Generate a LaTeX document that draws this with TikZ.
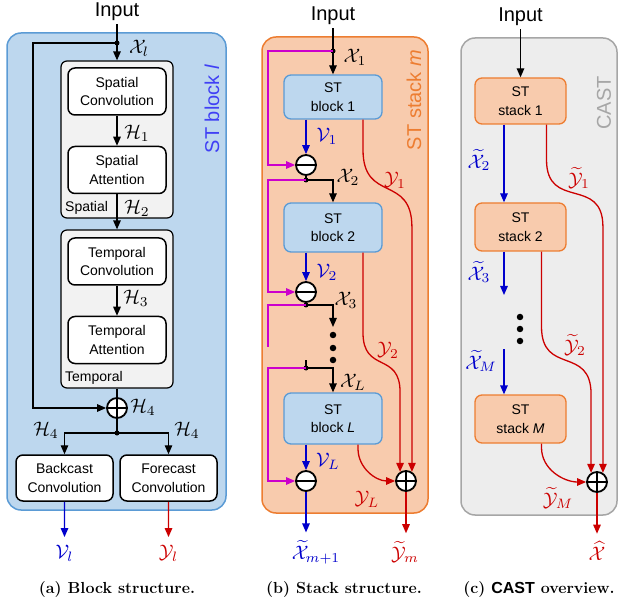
\documentclass[tikz,border=0pt]{standalone}
\usepackage{fontspec}
\setsansfont{Liberation Sans}
\usetikzlibrary{arrows.meta,positioning,calc}
\definecolor{bgblue}{HTML}{BDD7EE}
\definecolor{lnblue}{HTML}{5B9BD5}
\definecolor{bgorange}{HTML}{F8CBAD}
\definecolor{lnorange}{HTML}{ED7D31}
\definecolor{bggray}{HTML}{EDEDED}
\definecolor{lngray}{HTML}{A6A6A6}
\definecolor{grpgray}{HTML}{F2F2F2}
\definecolor{ttlblue}{HTML}{4040F5}
\definecolor{vblue}{HTML}{0000CC}
\definecolor{yred}{HTML}{CC0000}
\definecolor{rmag}{HTML}{CC00CC}
\newcommand{\blkfont}{\sffamily\fontsize{14}{18.5}\selectfont}
\tikzset{
  panel/.style={line width=1.5pt, rounded corners=14pt},
  grp/.style={draw, line width=1.2pt, fill=grpgray, rounded corners=6pt, inner sep=0pt},
  wbox/.style={draw, line width=1.5pt, fill=white, rounded corners=7pt, align=center, font=\blkfont, minimum width=98pt, minimum height=47pt, inner sep=0pt},
  stblock/.style={draw=lnblue, line width=1.3pt, fill=bgblue, rounded corners=7pt, align=center, font=\blkfont, minimum width=98pt, inner sep=0pt},
  ststack/.style={draw=lnorange, line width=1.3pt, fill=bgorange, rounded corners=7pt, align=center, font=\blkfont, minimum width=91pt, minimum height=46pt, inner sep=0pt},
  edge/.style={-{Triangle[length=9pt,width=7.5pt]}, line width=1.3pt},
  wire/.style={line width=1.3pt},
  vedge/.style={edge, vblue},
  yedge/.style={edge, yred},
  redge/.style={edge, rmag},
  sumnode/.style={circle, draw, line width=1.8pt, fill=white, minimum size=20pt, inner sep=0pt},
  opl/.style={sumnode, path picture={\draw[line width=1.8pt] (path picture bounding box.north) -- (path picture bounding box.south) (path picture bounding box.west) -- (path picture bounding box.east);}},
  omi/.style={sumnode, path picture={\draw[line width=1.8pt] (path picture bounding box.west) -- (path picture bounding box.east);}},
  jdot/.style={circle, fill, inner sep=0pt, minimum size=5pt},
  vdot/.style={circle, fill, inner sep=0pt, minimum size=6.5pt},
  lbl/.style={scale=1.95, inner sep=0.5pt},
  outlbl/.style={lbl, inner sep=0pt, outer sep=4pt},
  ttl/.style={font=\sffamily\fontsize{20}{20}\selectfont},
  capt/.style={font=\bfseries\fontsize{16}{16}\selectfont}
}

\begin{document}
\begin{tikzpicture}[x=1pt, y=-1pt]
\useasboundingbox (0,0) rectangle (618,609);

% (a) block structure
\draw[panel, draw=lnblue, fill=bgblue] (7,33) rectangle (226,510);
\node[ttl, text=ttlblue, rotate=90] (tblk) at (212,109) {ST block \textit{l}};
\node[ttl] (ina) at (117,12) {Input};
\node[jdot] (xl) at (117,43) {};
\node[grp, minimum width=112pt, minimum height=157pt] (spg) at (117,139.5) {};
\node[wbox] (sconv) at (117,91.5) {Spatial\\Convolution};
\node[wbox] (satt) at (117,170) {Spatial\\Attention};
\node[font=\blkfont, anchor=south west, inner sep=3pt] (splbl) at (62,218) {Spatial};
\node[grp, minimum width=112pt, minimum height=158pt] (tpg) at (117,309) {};
\node[wbox] (tconv) at (117,261.5) {Temporal\\Convolution};
\node[wbox] (tatt) at (117,340) {Temporal\\Attention};
\node[font=\blkfont, anchor=south west, inner sep=3pt] (tplbl) at (62,388) {Temporal};
\node[opl] (oa) at (117,408) {};
\node[jdot] (spa) at (117,433) {};
\node[wbox, minimum width=97pt, minimum height=46pt] (bconv) at (64.5,478) {Backcast\\Convolution};
\node[wbox, minimum width=97pt, minimum height=46pt] (fconv) at (168.5,478) {Forecast\\Convolution};
\node[outlbl, text=vblue] (vl) at (64.5,553) {$\mathcal{V}_l$};
\node[outlbl, text=yred] (yl) at (168.5,553) {$\mathcal{Y}_l$};
\node[lbl] (xll) at (139,48) {$\mathcal{X}_l$};
\node[lbl] (h1) at (137,133) {$\mathcal{H}_1$};
\node[lbl] (h2) at (137,208) {$\mathcal{H}_2$};
\node[lbl] (h3) at (136,298) {$\mathcal{H}_3$};
\node[lbl] (h4) at (143,407) {$\mathcal{H}_4$};
\node[lbl] (h4l) at (46,430) {$\mathcal{H}_4$};
\node[lbl] (h4r) at (187,430) {$\mathcal{H}_4$};

\draw[edge] (ina) -- (spg);
\draw[edge] (xl.center) -- ++(-84,0) |- (oa);
\draw[edge] (sconv) -- (satt);
\draw[edge] (satt) -- (tpg);
\draw[edge] (tconv) -- (tatt);
\draw[wire] (tpg) -- (oa);
\draw[wire] (oa) -- (spa.center);
\draw[edge] (spa.center) -| (bconv);
\draw[edge] (spa.center) -| (fconv);
\draw[vedge] (bconv) -- (vl);
\draw[yedge] (fconv) -- (yl);

% (b) stack structure
\draw[panel, draw=lnorange, fill=bgorange] (262,37) rectangle (428,513);
\node[ttl, text=lnorange, rotate=90] (tstk) at (414,100) {ST stack \textit{m}};
\node[ttl] (inb) at (333,16) {Input};
\node[jdot] (d1) at (333,51) {};
\node[stblock, minimum height=44pt] (blk1) at (333,97) {ST\\block 1};
\node[omi] (om1) at (306,165) {};
\node[jdot] (d2) at (306,180) {};
\node[stblock, minimum height=49pt] (blk2) at (333,227.5) {ST\\block 2};
\node[omi] (om2) at (306,292) {};
\node[jdot] (d3) at (306,305) {};
\coordinate (e3) at (333,327);
\coordinate (m3) at (268,347);
\node[vdot] (bd1) at (333,335) {};
\node[vdot] (bd2) at (333,348) {};
\node[vdot] (bd3) at (333,360) {};
\coordinate (tk) at (306,360);
\node[jdot] (dL) at (306,368) {};
\node[stblock, minimum height=51pt] (blkL) at (333,418.5) {ST\\block \textit{L}};
\node[omi] (omL) at (306,481) {};
\node[opl] (opb) at (406,481) {};
\node[outlbl, text=vblue] (xm) at (316,552) {$\widetilde{\mathcal{X}}_{m+1}$};
\node[outlbl, text=yred] (ym) at (405,552) {$\widetilde{\mathcal{Y}}_m$};
\node[lbl] (x1l) at (355,57) {$\mathcal{X}_1$};
\node[lbl] (x2l) at (348,177) {$\mathcal{X}_2$};
\node[lbl] (x3l) at (346,300) {$\mathcal{X}_3$};
\node[lbl] (xLl) at (353,382) {$\mathcal{X}_L$};
\node[lbl, text=vblue] (v1l) at (327,136) {$\mathcal{V}_1$};
\node[lbl, text=vblue] (v2l) at (327,272) {$\mathcal{V}_2$};
\node[lbl, text=vblue] (vLl) at (328,461) {$\mathcal{V}_L$};
\node[lbl, text=yred] (y1l) at (395,180) {$\mathcal{Y}_1$};
\node[lbl, text=yred] (y2l) at (388,350) {$\mathcal{Y}_2$};
\node[lbl, text=yred] (yLl) at (367,499) {$\mathcal{Y}_L$};

\draw[edge] (inb) -- (blk1);
\draw[redge] (d1.center) -- ++(-65,0) |- (om1);
\draw[vedge] (blk1.south -| om1) -- (om1);
\draw[wire] (om1) -- (d2.center);
\draw[edge] (d2.center) -| (blk2);
\draw[redge] (d2.center) -- ++(-38,0) |- (om2);
\draw[vedge] (blk2.south -| om2) -- (om2);
\draw[wire] (om2) -- (d3.center);
\draw[edge] (d3.center) -| (e3);
\draw[wire, rmag] (d3.center) -| (m3);
\draw[wire] (tk) -- (dL.center);
\draw[edge] (dL.center) -| (blkL);
\draw[redge] (dL.center) -- ++(-38,0) |- (omL);
\draw[vedge] (blkL.south -| omL) -- (omL);
\draw[yedge] ($(blk1.south)+(30,0)$) -- ++(0,30) to[out=-90,in=90,looseness=1.5] (opb.57 |- blk2) -- (opb.57);
\draw[yedge] ($(blk2.south)+(30,0)$) -- ++(0,80) to[out=-90,in=90,looseness=1.5] (opb.123 |- blkL.north) -- (opb.123);
\draw[yedge] ($(blkL.south)+(25,0)$) -- ++(0,4) to[out=-90,in=180] (opb);
\draw[vedge] (omL) -- (xm.north -| omL);
\draw[yedge] (opb) -- (ym.north -| opb);

% (c) CAST overview
\draw[panel, draw=lngray, fill=bggray] (461,38) rectangle (617,515);
\node[ttl, text=lngray, rotate=90] (tcast) at (604,103) {CAST};
\node[ttl] (inc) at (520.5,17) {Input};
\node[ststack] (stk1) at (520.5,101) {ST\\stack 1};
\node[ststack, minimum height=48pt] (stk2) at (520.5,227) {ST\\stack 2};
\node[ststack, minimum height=48pt] (stkM) at (520.5,419) {ST\\stack \textit{M}};
\coordinate (c3) at (504,295);
\coordinate (c4) at (504,349);
\node[vdot] (cd1) at (520,317) {};
\node[vdot] (cd2) at (520,329) {};
\node[vdot] (cd3) at (520,341) {};
\node[opl] (opc) at (597,482) {};
\node[outlbl, text=yred] (xhat) at (597,551) {$\widehat{\mathcal{X}}$};
\node[lbl, text=vblue] (x2c) at (479,160) {$\widetilde{\mathcal{X}}_2$};
\node[lbl, text=vblue] (x3c) at (479,272) {$\widetilde{\mathcal{X}}_3$};
\node[lbl, text=vblue] (xMc) at (481,361) {$\widetilde{\mathcal{X}}_M$};
\node[lbl, text=yred] (y1c) at (579,178) {$\widetilde{\mathcal{Y}}_1$};
\node[lbl, text=yred] (y2c) at (575,345) {$\widetilde{\mathcal{Y}}_2$};
\node[lbl, text=yred] (yMc) at (558,498) {$\widetilde{\mathcal{Y}}_M$};

\draw[edge] (inc) -- (stk1);
\draw[vedge] ($(stk1.south)+(-16.5,0)$) -- ($(stk2.north)+(-16.5,0)$);
\draw[vedge] ($(stk2.south)+(-16.5,0)$) -- (c3);
\draw[vedge] (c4) -- ($(stkM.north)+(-16.5,0)$);
\draw[yedge] ($(stk1.south)+(26,0)$) -- ++(0,35) to[out=-90,in=90,looseness=1.5] (opc.57 |- stk2) -- (opc.57);
\draw[yedge] ($(stk2.south)+(21,0)$) -- ++(0,75) to[out=-90,in=90,looseness=1.5] (opc.123 |- stkM.north) -- (opc.123);
\draw[yedge] ($(stkM.south)+(21,0)$) -- ++(0,4) to[out=-90,in=180] (opc);
\draw[yedge] (opc) -- (xhat.north -| opc);

% captions
\node[capt] (capa) at (117,590) {(a) Block structure.};
\node[capt] (capb) at (344,590) {(b) Stack structure.};
\node[capt] (capc) at (539,590) {(c) \textsf{CAST} overview.};
\end{tikzpicture}
\end{document}
